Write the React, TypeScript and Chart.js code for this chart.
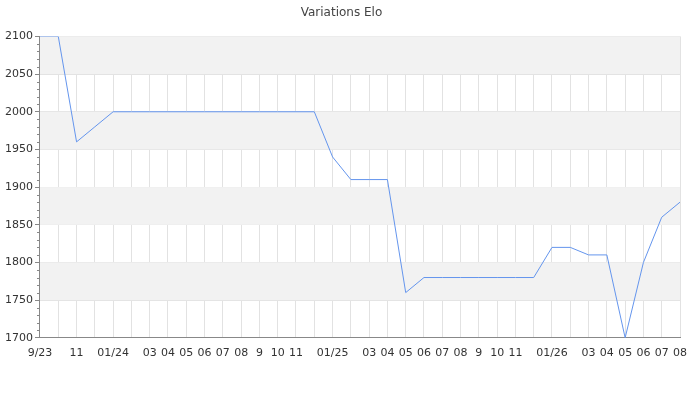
import React, { useEffect, useRef } from "react";
import { Chart, registerables } from "chart.js";

Chart.register(...registerables);

const TITLE = "Variations Elo";
const MONTH_LABELS = [
  "9/23", "", "11", "", "01/24", "", "03", "04", "05", "06", "07", "08", "9", "10", "11", "",
  "01/25", "", "03", "04", "05", "06", "07", "08", "9", "10", "11", "",
  "01/26", "", "03", "04", "05", "06", "07", "08",
];
const ELO = [
  2100, 2100, 1960, 1980, 2000, 2000, 2000, 2000, 2000, 2000, 2000, 2000, 2000, 2000, 2000, 2000,
  1940, 1910, 1910, 1910, 1760, 1780, 1780, 1780, 1780, 1780, 1780, 1780,
  1820, 1820, 1810, 1810, 1700, 1800, 1860, 1880,
];
const Y_MIN = 1700;
const Y_MAX = 2100;
const BANDS: [number, number][] = [
  [1750, 1800],
  [1850, 1900],
  [1950, 2000],
  [2050, 2100],
];

const bandPlugin = {
  id: "bands",
  beforeDatasetsDraw(chart: any) {
    const { ctx, chartArea, scales } = chart;
    const y = scales.y;
    ctx.save();
    ctx.fillStyle = "#f2f2f2";
    for (const [a, b] of BANDS) {
      const y1 = y.getPixelForValue(b);
      const y2 = y.getPixelForValue(a);
      ctx.fillRect(chartArea.left, y1, chartArea.right - chartArea.left, y2 - y1);
    }
    ctx.restore();
  },
  afterDraw(chart: any) {
    const { ctx, scales } = chart;
    const y = scales.y;
    ctx.save();
    ctx.strokeStyle = "#888";
    ctx.lineWidth = 1;
    for (const t of y.ticks) {
      if (t.value % 50 === 0) continue;
      const py = Math.round(y.getPixelForValue(t.value)) + 0.5;
      ctx.beginPath();
      ctx.moveTo(y.right - 3, py);
      ctx.lineTo(y.right, py);
      ctx.stroke();
    }
    ctx.restore();
  },
};

export default function App() {
  const ref = useRef<HTMLCanvasElement>(null);
  useEffect(() => {
    document.body.style.margin = "0";
    const font = { family: "'DejaVu Sans', sans-serif", size: 11 };
    const chart = new Chart(ref.current!, {
      type: "line",
      data: {
        labels: MONTH_LABELS,
        datasets: [
          {
            data: ELO,
            borderColor: "#6495ed",
            borderWidth: 1,
            pointRadius: 0,
            tension: 0,
            fill: false,
          },
        ],
      },
      plugins: [bandPlugin],
      options: {
        animation: false,
        responsive: false,
        layout: { padding: { top: 0, right: 20, bottom: 31, left: 3 } },
        plugins: {
          legend: { display: false },
          tooltip: { enabled: false },
          title: {
            display: true,
            text: TITLE,
            color: "#444",
            font: { family: "'DejaVu Sans', sans-serif", size: 12, weight: "normal" },
            padding: { top: 6, bottom: 16 },
          },
        },
        scales: {
          x: {
            type: "category",
            offset: false,
            grid: {
              color: "#e2e2e2",
              drawTicks: false,
            },
            border: { color: "#888", width: 1 },
            ticks: {
              autoSkip: false,
              maxRotation: 0,
              color: "#333",
              font,
              padding: 9,
            },
          },
          y: {
            min: Y_MIN,
            max: Y_MAX,
            grid: {
              color: (c: any) => (c.tick && c.tick.value % 50 === 0 ? "#e2e2e2" : "transparent"),
              tickColor: (c: any) => (c.tick && c.tick.value % 50 === 0 ? "#888" : "transparent"),
              tickLength: 5,
            },
            border: { color: "#888", width: 1 },
            ticks: {
              stepSize: 10,
              autoSkip: false,
              color: "#333",
              font,
              padding: 2,
              callback: (v: any) => (Number(v) % 50 === 0 ? String(v) : ""),
            },
          },
        },
      },
    });
    return () => chart.destroy();
  }, []);
  return <canvas ref={ref} width={700} height={400} style={{ display: "block" }} />;
}
